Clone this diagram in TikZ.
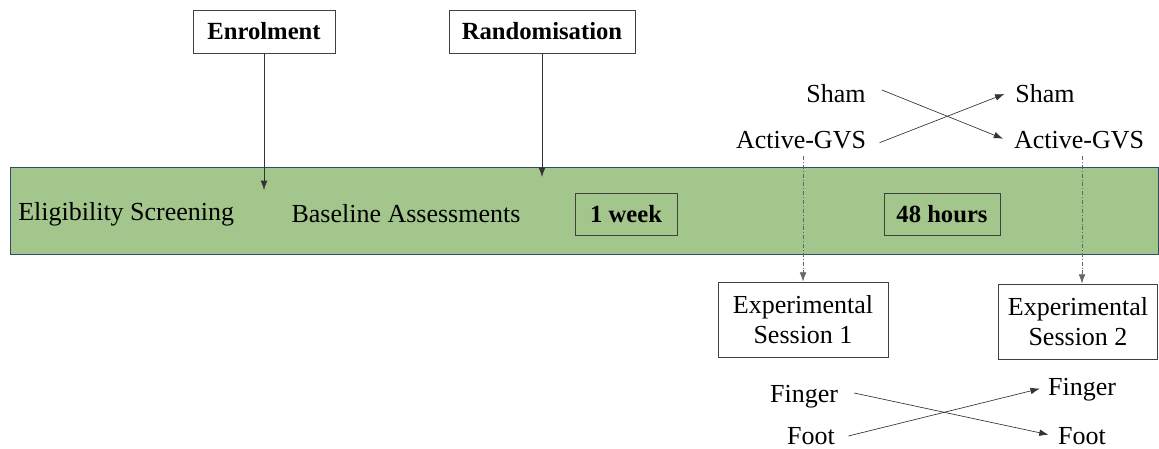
\documentclass[tikz,border=0pt]{standalone}
\usepackage{fontspec}
\setmainfont{Liberation Serif}
\usetikzlibrary{arrows.meta}
\definecolor{bandgreen}{RGB}{163,198,140}
\definecolor{bandedge}{RGB}{50,75,100}
\begin{document}
\begin{tikzpicture}[x=0.75pt,y=-0.75pt,
  every node/.style={font=\fontsize{19.5}{22.5}\selectfont, inner sep=0pt},
  boxed/.style={draw=black!75, line width=0.6pt, minimum height=43*0.75pt},
  boldtxt/.style={font=\fontsize{18.5}{22}\selectfont\bfseries},
  arr/.style={draw=black!80, line width=0.5pt, -{Latex[length=7pt,width=5pt]}},
  dotarr/.style={draw=black!60, line width=0.5pt, dash pattern=on 3pt off 1.5pt on 0.6pt off 1.5pt, -{Latex[length=7pt,width=5pt]}}]
\useasboundingbox (0,0) rectangle (1159,449);
% band
\node[draw=bandedge, line width=0.7pt, fill=bandgreen, minimum width=1148*0.75pt, minimum height=87*0.75pt, anchor=north west] (band) at (10,167) {};
\node[anchor=west] (elig) at (18,214) {Eligibility Screening};
\node (base) at (406,214) {Baseline Assessments};
\node[boxed, boldtxt, minimum width=102*0.75pt, minimum height=42*0.75pt] (week) at (626,214) {1 week};
\node[boxed, boldtxt, minimum width=116*0.75pt, minimum height=42*0.75pt] (hours) at (942,214) {48 hours};
% top boxes
\node[boxed, boldtxt, fill=white, minimum width=142*0.75pt] (enrol) at (264,31.5) {Enrolment};
\node[boxed, boldtxt, fill=white, minimum width=186*0.75pt] (rand) at (542,31.5) {Randomisation};
\coordinate (enrolend) at (264,190);
\coordinate (randend) at (542,177);
\draw[arr] (enrol.south) -- (enrolend);
\draw[arr] (rand.south) -- (randend);
% sham / active
\node (shamL) at (836,94) {Sham};
\node (actL) at (801,140) {Active-GVS};
\node (shamR) at (1045,94) {Sham};
\node (actR) at (1079,140) {Active-GVS};
\draw[arr] ([xshift=12pt,yshift=3pt]shamL.east) -- ([xshift=-8pt,yshift=1pt]actR.west);
\draw[arr] ([xshift=10pt,yshift=-2pt]actL.east) -- ([xshift=-8pt,yshift=0pt]shamR.west);
% sessions
\node[boxed, fill=white, minimum width=170*0.75pt, minimum height=75*0.75pt, align=center] (es1) at (803,319.5) {Experimental\\Session 1};
\node[boxed, fill=white, minimum width=159*0.75pt, minimum height=75*0.75pt, align=center] (es2) at (1078,321.5) {Experimental\\Session 2};
\coordinate (a1) at (803,156);
\coordinate (a2) at (1082,156);
\draw[dotarr] (a1) -- (a1 |- es1.north);
\draw[dotarr] (a2) -- (a2 |- es2.north);
% finger / foot
\node (fingL) at (804,397) {Finger};
\node (footL) at (811,436) {Foot};
\node (fingR) at (1082,390) {Finger};
\node (footR) at (1082,436) {Foot};
\draw[arr] ([xshift=12pt,yshift=3pt]fingL.east) -- ([xshift=-7pt,yshift=1pt]footR.west);
\draw[arr] ([xshift=10pt,yshift=0pt]footL.east) -- ([xshift=-6pt,yshift=1pt]fingR.west);
\end{tikzpicture}
\end{document}
